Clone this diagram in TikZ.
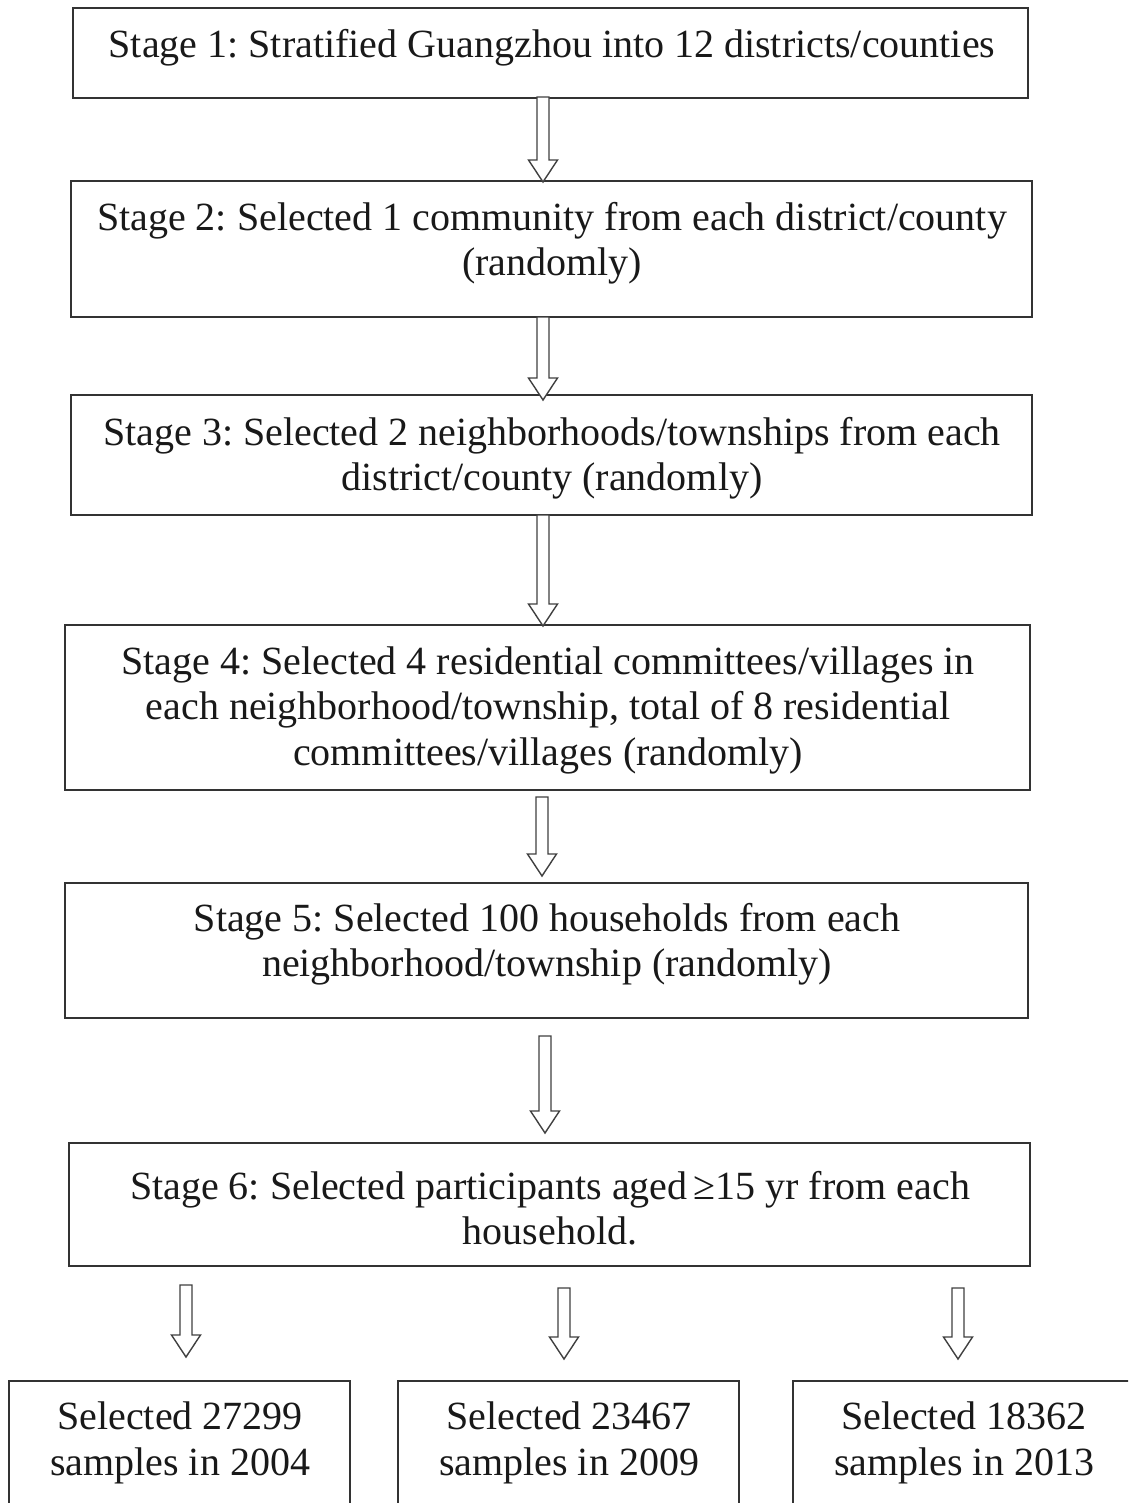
\documentclass[tikz,border=0pt]{standalone}
\usepackage{fontspec}
\setmainfont{Liberation Serif}
\usetikzlibrary{calc}
\begin{document}
\frenchspacing
\begin{tikzpicture}[x=1pt,y=-1pt,
  box/.style={draw=black!80, line width=1.8pt, inner sep=0pt},
  txt/.style={align=center, font=\fontsize{40}{45.5}\selectfont, text=black!90, inner sep=0pt},
  blk/.style={draw=black!75, line width=1.4pt, fill=white, line join=miter}]
\useasboundingbox (0,0) rectangle (1128,1503);
\clip (0,0) rectangle (1128,1503);
\fill[white] (0,0) rectangle (1128,1503);
\newcommand{\blockarrow}[2]{%
  \draw[blk] ($(#1)+(-6,0)$) -- ($(#2)+(-6,-22)$) -- ($(#2)+(-14.5,-22)$) -- (#2)
    -- ($(#2)+(14.5,-22)$) -- ($(#2)+(6,-22)$) -- ($(#1)+(6,0)$) -- cycle;}
% boxes
\node[box, minimum width=955, minimum height=90] (b1) at (550.5,53) {};
\node[txt] (t1) at (552,48) {Stage 1: Stratified Guangzhou into 12 districts/counties};
\node[box, minimum width=961, minimum height=136] (b2) at (551.5,249) {};
\node[txt] (t2) at (552,243) {Stage 2: Selected 1 community from each district/county\\(randomly)};
\node[box, minimum width=961, minimum height=120] (b3) at (551.5,455) {};
\node[txt] (t3) at (552,458) {Stage 3: Selected 2 neighborhoods/townships from each\\district/county (randomly)};
\node[box, minimum width=965, minimum height=165] (b4) at (547.5,707.5) {};
\node[txt] (t4) at (548,710) {Stage 4: Selected 4 residential committees/villages in\\each neighborhood/township, total of 8 residential\\committees/villages (randomly)};
\node[box, minimum width=963, minimum height=135] (b5) at (546.5,950.5) {};
\node[txt] (t5) at (547,944) {Stage 5: Selected 100 households from each\\neighborhood/township (randomly)};
\node[box, minimum width=961, minimum height=123] (b6) at (549.5,1204.5) {};
\node[txt] (t6) at (550,1208) {Stage 6: Selected participants aged \kern-0.1em≥15 yr from each\\household.};
\node[box, minimum width=341, minimum height=160] (b7) at (179.5,1461) {};
\node[txt] (t7) at (180,1443) {Selected 27299\\samples in 2004};
\node[box, minimum width=341, minimum height=160] (b8) at (568.5,1461) {};
\node[txt] (t8) at (569,1443) {Selected 23467\\samples in 2009};
\node[box, minimum width=341, minimum height=160] (b9) at (963.5,1461) {};
\node[txt] (t9) at (964,1443) {Selected 18362\\samples in 2013};
% arrow endpoints
\coordinate (a1s) at (543,97);   \coordinate (a1e) at (543,182);
\coordinate (a2s) at (543,317);  \coordinate (a2e) at (543,400);
\coordinate (a3s) at (543,515);  \coordinate (a3e) at (543,626);
\coordinate (a4s) at (542,797);  \coordinate (a4e) at (542,876);
\coordinate (a5s) at (545,1036); \coordinate (a5e) at (545,1133);
\coordinate (a6s) at (186,1285); \coordinate (a6e) at (186,1357);
\coordinate (a7s) at (564,1288); \coordinate (a7e) at (564,1359);
\coordinate (a8s) at (958,1288); \coordinate (a8e) at (958,1359);
\blockarrow{a1s}{a1e}
\blockarrow{a2s}{a2e}
\blockarrow{a3s}{a3e}
\blockarrow{a4s}{a4e}
\blockarrow{a5s}{a5e}
\blockarrow{a6s}{a6e}
\blockarrow{a7s}{a7e}
\blockarrow{a8s}{a8e}
\end{tikzpicture}
\end{document}
